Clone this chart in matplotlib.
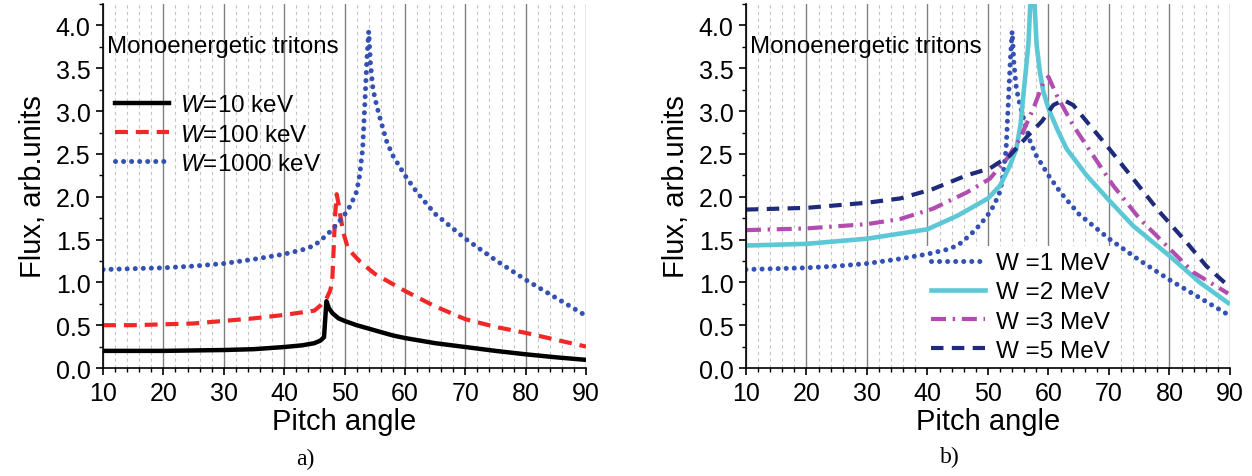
import matplotlib
matplotlib.use("Agg")
import matplotlib.pyplot as plt
from matplotlib.ticker import MultipleLocator, FormatStrFormatter

plt.rcParams['font.family'] = ['Liberation Sans', 'DejaVu Sans']
plt.rcParams['mathtext.fontset'] = 'custom'
plt.rcParams['mathtext.it'] = 'Liberation Sans:italic'
plt.rcParams['mathtext.rm'] = 'Liberation Sans'

# panel a) : W = 10, 100, 1000 keV
x_10kev = [10, 15, 20, 25, 30, 35, 40, 43, 45, 46, 46.6, 47.0, 47.4, 48, 49, 50, 52, 55, 58, 60,
           65, 70, 75, 80, 85, 90]
y_10kev = [0.20, 0.20, 0.20, 0.205, 0.21, 0.22, 0.245, 0.265, 0.29, 0.32, 0.36, 0.78, 0.70, 0.64,
           0.58, 0.55, 0.50, 0.44, 0.38, 0.35, 0.29, 0.245, 0.20, 0.16, 0.125, 0.095]

x_100kev = [10, 15, 20, 25, 30, 35, 40, 43, 45, 46, 47.0, 47.6, 47.95, 48.2, 48.45, 48.7, 49.0,
            49.3, 49.8, 50.6, 52.6, 55, 60, 65, 70, 75, 80, 85, 90]
y_100kev = [0.50, 0.50, 0.51, 0.52, 0.55, 0.58, 0.62, 0.65, 0.67, 0.73, 0.81, 0.90, 1.00, 1.40,
            1.80, 2.03, 1.92, 1.78, 1.58, 1.39, 1.24, 1.10, 0.90, 0.72, 0.57, 0.48, 0.41, 0.33, 0.25]

x_1000kev = [10, 15, 20, 25, 30, 35, 40, 43, 45, 47, 48, 49, 50, 51, 52, 52.5, 53, 53.4, 53.7,
             54.0, 54.3, 54.7, 55.3, 55.9, 57, 58, 60, 62, 65, 70, 75, 80, 85, 90]
y_1000kev = [1.15, 1.16, 1.17, 1.19, 1.22, 1.27, 1.33, 1.38, 1.43, 1.55, 1.62, 1.70, 1.79, 1.90,
             2.06, 2.25, 2.56, 3.15, 3.60, 3.93, 3.55, 3.26, 3.07, 2.91, 2.64, 2.48, 2.25, 2.05,
             1.80, 1.51, 1.26, 1.03, 0.82, 0.61]

# panel b) : W = 1, 2, 3, 5 MeV (1 MeV is the same curve as 1000 keV)
x_2mev = [10, 20, 30, 35.5, 40, 45, 48, 50, 52, 53.6, 54.7, 55.4, 55.8, 56.3, 56.7, 57.0, 57.35,
          57.7, 58.05, 58.6, 59.15, 60, 61.5, 63, 66.3, 70, 74, 80, 85, 89.7]
y_2mev = [1.43, 1.45, 1.51, 1.57, 1.62, 1.78, 1.90, 1.98, 2.13, 2.36, 2.56, 2.85, 3.15, 3.50, 3.80,
          4.25, 4.70, 4.25, 3.77, 3.45, 3.23, 3.03, 2.78, 2.56, 2.25, 1.96, 1.66, 1.31, 1.00, 0.76]

x_3mev = [10, 20, 30, 35.5, 40.9, 46.5, 50.3, 53.1, 55.3, 57.5, 59.2, 60.0, 61.4, 64.1, 67.4,
          70.7, 75.1, 79.5, 83.9, 89.7]
y_3mev = [1.61, 1.63, 1.68, 1.74, 1.86, 2.05, 2.21, 2.44, 2.68, 3.03, 3.34, 3.40, 3.18, 2.83, 2.48,
          2.13, 1.74, 1.43, 1.12, 0.87]

x_5mev = [10, 20, 30, 35.5, 40.9, 46.5, 50.3, 53.6, 56.7, 58.9, 60.8, 62.5, 64.1, 66.3, 69.6,
          74.0, 78.4, 82.8, 86.1, 89.7]
y_5mev = [1.85, 1.87, 1.93, 1.98, 2.09, 2.25, 2.33, 2.48, 2.72, 2.88, 3.07, 3.13, 3.07, 2.88, 2.60,
          2.21, 1.82, 1.47, 1.19, 0.96]

labels_a = ['$W$=10 keV', '$W$=100 keV', '$W$=1000 keV']
labels_b = ['W =1 MeV', 'W =2 MeV', 'W =3 MeV', 'W =5 MeV']

DOTS = (0, (0.01, 1.6))


def style_axes(ax):
    ax.set_xlim(10, 90)
    ax.set_ylim(0, 4.25)
    ax.xaxis.set_major_locator(MultipleLocator(10))
    ax.xaxis.set_minor_locator(MultipleLocator(2))
    ax.yaxis.set_major_locator(MultipleLocator(0.5))
    ax.yaxis.set_minor_locator(MultipleLocator(0.25))
    ax.yaxis.set_major_formatter(FormatStrFormatter('%.1f'))
    ax.grid(True, axis='x', which='major', color='#808080', lw=1.0)
    ax.grid(True, axis='x', which='minor', color='#c4c4c4', lw=0.8, ls=(0, (3, 3)))
    ax.set_axisbelow(True)
    for s in ['top', 'right']:
        ax.spines[s].set_visible(False)
    for s in ['left', 'bottom']:
        ax.spines[s].set_linewidth(1.2)
    ax.tick_params(which='major', direction='out', length=5, width=1.2, labelsize=18, pad=4)
    ax.tick_params(which='minor', direction='out', length=3, width=1.0)
    ax.set_xlabel('Pitch angle', fontsize=21, labelpad=2)
    ax.set_ylabel('Flux, arb.units', fontsize=21, labelpad=6)
    ax.text(0.008, 0.885, 'Monoenergetic tritons', transform=ax.transAxes, fontsize=17.4,
            va='center', ha='left')


fig = plt.figure(figsize=(12.52, 4.77), dpi=100)
ax1 = fig.add_axes([0.0823, 0.2264, 0.3858, 0.763])
ax2 = fig.add_axes([0.5958, 0.2264, 0.3866, 0.763])

style_axes(ax1)
ax1.plot(x_10kev, y_10kev, color='black', lw=3.2, label=labels_a[0])
ax1.plot(x_100kev, y_100kev, color='#f02828', lw=3.0, ls=(0, (3.1, 1.9)), label=labels_a[1])
ax1.plot(x_1000kev, y_1000kev, color='#3450b4', lw=3.6, ls=DOTS,
         dash_capstyle='round', label=labels_a[2])
ax1.legend(loc='upper left', bbox_to_anchor=(0.025, 0.752), frameon=False, fontsize=17.5,
           handlelength=2.2, handletextpad=0.45, labelspacing=0.3, borderaxespad=0,
           borderpad=0)

style_axes(ax2)
ax2.plot(x_1000kev, y_1000kev, color='#3450b4', lw=3.6, ls=DOTS,
         dash_capstyle='round', label=labels_b[0])
ax2.plot(x_2mev, y_2mev, color='#5cc8d6', lw=3.3, label=labels_b[1])
ax2.plot(x_3mev, y_3mev, color='#b24db0', lw=3.0, ls=(0, (3.6, 1.6, 0.6, 1.6)), label=labels_b[2])
ax2.plot(x_5mev, y_5mev, color='#1f2a7a', lw=3.0, ls=(0, (3.0, 2.0)), label=labels_b[3])
leg = ax2.legend(loc='lower left', bbox_to_anchor=(0.37, 0.0), frameon=True, fontsize=17.5,
                 handlelength=2.2, handletextpad=0.45, labelspacing=0.3, borderaxespad=0,
                 borderpad=0.25, fancybox=False)
leg.get_frame().set_edgecolor('none')
leg.get_frame().set_facecolor('white')
leg.get_frame().set_alpha(1.0)
# white box hides the grid, but the curves stay on top of it
leg.set_zorder(1.5)

fig.text(0.244, 0.036, 'a)', family='Liberation Serif', fontsize=17, ha='center', va='center')
fig.text(0.759, 0.042, 'b)', family='Liberation Serif', fontsize=17, ha='center', va='center')

fig.savefig('out.png', dpi=100)
